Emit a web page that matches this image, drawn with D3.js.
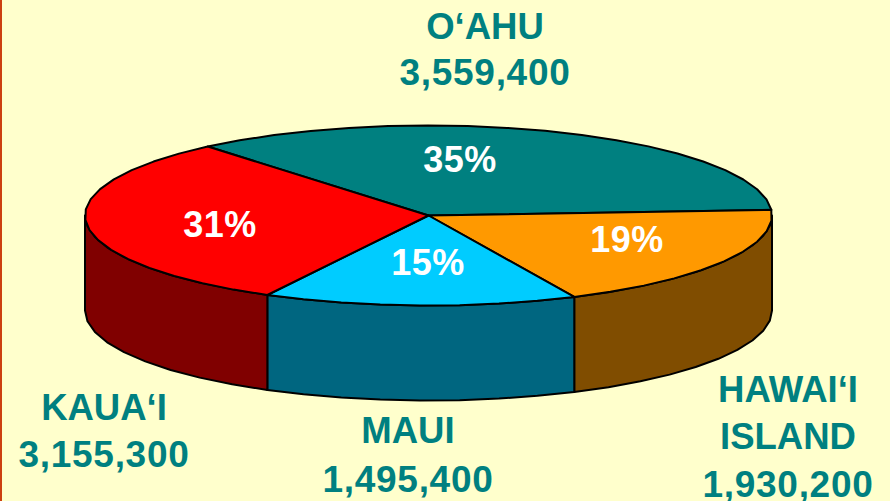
<!DOCTYPE html>
<html><head><meta charset="utf-8">
<script src="https://cdn.jsdelivr.net/npm/d3@7/dist/d3.min.js"></script>
<style>html,body{margin:0;padding:0;background:#FFFFCC;overflow:hidden}svg{display:block}</style>
</head><body><svg id="c" width="890" height="501"></svg>
<script>
const categories = ["O‘AHU","HAWAI‘I ISLAND","MAUI","KAUA‘I"];
const values = [3559400,1930200,1495400,3155300];
const percents = ["35%","19%","15%","31%"];
const topColors = ["#008080","#FF9900","#00CCFF","#FF0000"];
const sideColors = ["#004040","#804D00","#006680","#800000"];
const labelLines = [["O‘AHU","3,559,400"],["HAWAI‘I","ISLAND","1,930,200"],["MAUI","1,495,400"],["KAUA‘I","3,155,300"]];

const W=890,H=501,cx=428.5,cy=215.5,rx=343.5,ry=90,depth=95;
const svg=d3.select("#c");
svg.append("rect").attr("width",W).attr("height",H).attr("fill","#FFFFCC");
svg.append("rect").attr("width",2).attr("height",H).attr("fill","#CC4010");

const sx=d3.scaleLinear().domain([-1,1]).range([cx-rx,cx+rx]);
const sy=d3.scaleLinear().domain([-1,1]).range([cy-ry,cy+ry]);
const pie=d3.pie().sort(null).startAngle(320*Math.PI/180).endAngle((320+360)*Math.PI/180);
const arcs=pie(values);
const STEP=7*Math.PI/180;
const line=d3.line();
const pt=(a,dz=0)=>[sx(Math.sin(a)),sy(-Math.cos(a))+dz];
function samples(a0,a1){const n=Math.max(1,Math.ceil((a1-a0)/STEP));return d3.range(n+1).map(i=>a0+(a1-a0)*i/n);}

const g=svg.append("g").attr("stroke","#000").attr("stroke-width",2).attr("stroke-linejoin","round");
const PI=Math.PI;
arcs.forEach((d,i)=>{
  [0,2*PI].forEach(off=>{
    const a0=Math.max(d.startAngle,PI/2+off),a1=Math.min(d.endAngle,3*PI/2+off);
    if(a1<=a0)return;
    const s=samples(a0,a1);
    const p=s.map(a=>pt(a)).concat(s.slice().reverse().map(a=>pt(a,depth)));
    g.append("path").attr("d",line(p)+"Z").attr("fill",sideColors[i]);
  });
});
arcs.forEach((d,i)=>{
  const p=[[cx,cy]].concat(samples(d.startAngle,d.endAngle).map(a=>pt(a)));
  g.append("path").attr("d",line(p)+"Z").attr("fill",topColors[i]);
});

const font="'Liberation Sans',Arial,sans-serif";
const pctPos=[[460,172],[627,252],[428,275],[220,237]];
percents.forEach((t,i)=>svg.append("text").text(t).attr("x",pctPos[i][0]).attr("y",pctPos[i][1])
  .attr("text-anchor","middle").attr("fill","#fff").attr("font-family",font).attr("font-weight","bold")
  .attr("font-size",36).attr("letter-spacing",0.5));
const labelPos=[[485,[39,85]],[788,[402,449,497]],[408,[443,492]],[104,[420,467]]];
labelLines.forEach((ls,i)=>ls.forEach((t,j)=>{
  const numeric=/^[0-9]/.test(t);
  svg.append("text").text(t)
  .attr("x",labelPos[i][0]).attr("y",labelPos[i][1][j]).attr("text-anchor","middle")
  .attr("fill","#008080").attr("font-family",font).attr("font-weight","bold")
  .attr("font-size",numeric?37:36.5).attr("letter-spacing",numeric?0.7:0);
}));
</script></body></html>
